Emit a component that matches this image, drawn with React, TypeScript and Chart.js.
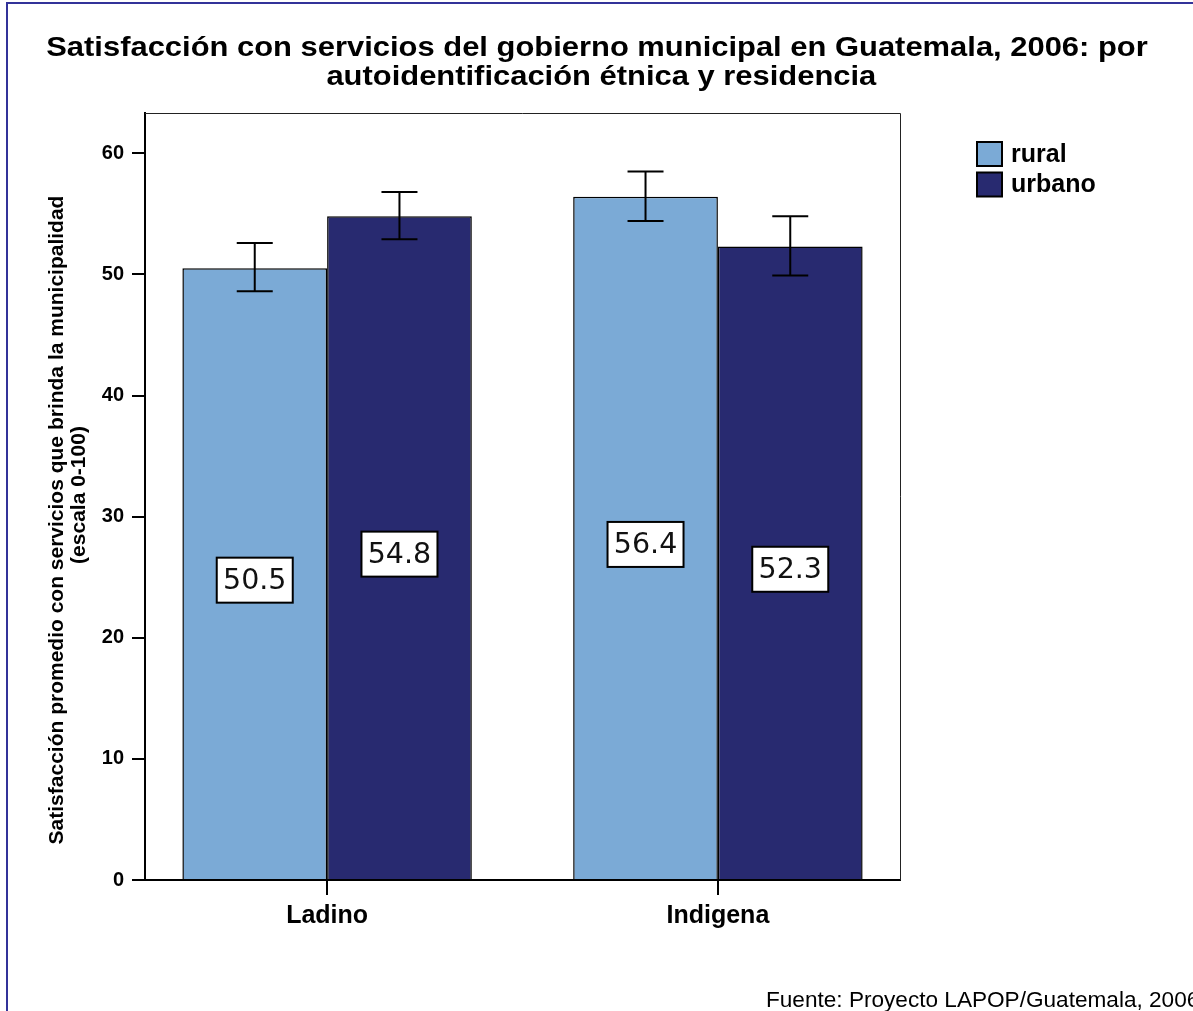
import React, { useEffect, useRef } from 'react';
import { Chart, registerables } from 'chart.js';

Chart.register(...registerables);

const TITLE_LINES = [
  'Satisfacción con servicios del gobierno municipal en Guatemala, 2006: por',
  'autoidentificación étnica y residencia',
];
const Y_TITLE_LINES = [
  'Satisfacción promedio con servicios que brinda la municipalidad',
  '(escala 0-100)',
];
const SOURCE_TEXT = 'Fuente: Proyecto LAPOP/Guatemala, 2006';
const CATEGORIES = ['Ladino', 'Indigena'];
const SERIES_LABELS = ['rural', 'urbano'];
const RURAL = [50.5, 56.4];
const URBANO = [54.8, 52.3];
const RURAL_LOW = [48.6, 54.4];
const RURAL_HIGH = [52.6, 58.5];
const URBANO_LOW = [52.9, 49.9];
const URBANO_HIGH = [56.8, 54.8];
const Y_TICKS = [0, 10, 20, 30, 40, 50, 60];
const Y_MAX = 63.3;
const X_MIN = -0.466;
const X_MAX = 1.466;

const RURAL_COLOR = '#7BAAD6';
const URBANO_COLOR = '#282A70';
const FRAME_COLOR = '#333399';
const SANS = '"Liberation Sans", Arial, sans-serif';

const decorations = {
  id: 'decorations',
  afterDatasetsDraw(chart: any) {
    const ctx = chart.ctx;
    const yScale = chart.scales.y;
    ctx.save();
    // error bars
    chart.data.datasets.forEach((ds: any, di: number) => {
      const meta = chart.getDatasetMeta(di);
      meta.data.forEach((bar: any, i: number) => {
        const yLo = yScale.getPixelForValue(ds.errLow[i]);
        const yHi = yScale.getPixelForValue(ds.errHigh[i]);
        ctx.strokeStyle = '#000';
        ctx.lineWidth = 2;
        ctx.beginPath();
        ctx.moveTo(bar.x, yLo);
        ctx.lineTo(bar.x, yHi);
        ctx.moveTo(bar.x - 18, yLo);
        ctx.lineTo(bar.x + 18, yLo);
        ctx.moveTo(bar.x - 18, yHi);
        ctx.lineTo(bar.x + 18, yHi);
        ctx.stroke();
      });
    });
    // value labels
    chart.data.datasets.forEach((ds: any, di: number) => {
      const meta = chart.getDatasetMeta(di);
      meta.data.forEach((bar: any, i: number) => {
        const v = ds.data[i].y;
        const cy = yScale.getPixelForValue(v / 2) + 6;
        const w = 76, h = 45;
        ctx.fillStyle = '#fff';
        ctx.fillRect(bar.x - w / 2, cy - h / 2, w, h);
        ctx.strokeStyle = '#000';
        ctx.lineWidth = 2;
        ctx.strokeRect(bar.x - w / 2, cy - h / 2, w, h);
        ctx.fillStyle = '#111';
        ctx.font = '28.5px "DejaVu Sans", Verdana, sans-serif';
        ctx.textAlign = 'center';
        ctx.textBaseline = 'middle';
        ctx.fillText(v.toFixed(1), bar.x, cy + 1);
      });
    });
    ctx.restore();
  },
  afterDraw(chart: any) {
    const ctx = chart.ctx;
    const area = chart.chartArea;
    ctx.save();
    // outer frame
    ctx.fillStyle = FRAME_COLOR;
    ctx.fillRect(6, 2, 1300, 2);
    ctx.fillRect(6, 2, 2, 1100);
    // plot frame top/right
    ctx.strokeStyle = '#222';
    ctx.lineWidth = 1;
    ctx.beginPath();
    ctx.moveTo(area.left, Math.round(area.top) + 0.5);
    ctx.lineTo(area.right + 0.5, Math.round(area.top) + 0.5);
    ctx.lineTo(area.right + 0.5, area.bottom);
    ctx.stroke();
    // title (slightly widened, as in the original)
    ctx.fillStyle = '#000';
    ctx.font = `bold 28.5px ${SANS}`;
    ctx.textAlign = 'center';
    ctx.textBaseline = 'alphabetic';
    ctx.save();
    ctx.translate(597, 0);
    ctx.scale(1.085, 1);
    ctx.fillText(TITLE_LINES[0], 0, 56);
    ctx.fillText(TITLE_LINES[1], 4, 85);
    ctx.restore();
    // y-axis title
    ctx.font = `bold 21px ${SANS}`;
    ctx.save();
    ctx.translate(63, 520);
    ctx.rotate(-Math.PI / 2);
    ctx.fillText(Y_TITLE_LINES[0], 0, 0);
    ctx.restore();
    ctx.save();
    ctx.translate(85, 495);
    ctx.rotate(-Math.PI / 2);
    ctx.fillText(Y_TITLE_LINES[1], 0, 0);
    ctx.restore();
    // legend
    chart.data.datasets.forEach((ds: any, i: number) => {
      const bx = 977, by = 142 + i * 30.5;
      ctx.fillStyle = ds.backgroundColor;
      ctx.fillRect(bx, by, 25, 24);
      ctx.strokeStyle = '#000';
      ctx.lineWidth = 2;
      ctx.strokeRect(bx, by, 25, 24);
      ctx.fillStyle = '#000';
      ctx.font = `bold 25px ${SANS}`;
      ctx.textAlign = 'left';
      ctx.textBaseline = 'middle';
      ctx.fillText(ds.label, 1011, by + 13);
    });
    // source
    ctx.font = `22.6px ${SANS}`;
    ctx.textAlign = 'left';
    ctx.textBaseline = 'alphabetic';
    ctx.fillText(SOURCE_TEXT, 766, 1007);
    ctx.restore();
  },
};

export default function App() {
  const ref = useRef<HTMLCanvasElement>(null);
  useEffect(() => {
    const chart = new Chart(ref.current as HTMLCanvasElement, {
      type: 'bar',
      data: {
        datasets: [
          {
            label: SERIES_LABELS[0],
            data: CATEGORIES.map((_, i) => ({ x: i, y: RURAL[i] })),
            backgroundColor: RURAL_COLOR,
            borderColor: '#000',
            borderWidth: 1.5,
            errLow: RURAL_LOW,
            errHigh: RURAL_HIGH,
          } as any,
          {
            label: SERIES_LABELS[1],
            data: CATEGORIES.map((_, i) => ({ x: i, y: URBANO[i] })),
            backgroundColor: URBANO_COLOR,
            borderColor: '#000',
            borderWidth: 1.5,
            errLow: URBANO_LOW,
            errHigh: URBANO_HIGH,
          } as any,
        ],
      },
      options: {
        responsive: false,
        animation: false,
        events: [],
        categoryPercentage: 0.7407,
        barPercentage: 1,
        layout: { padding: { left: 0, top: 113.3, right: 293, bottom: 0 } },
        plugins: {
          legend: { display: false },
          title: { display: false },
          tooltip: { enabled: false },
        },
        scales: {
          x: {
            type: 'linear',
            min: X_MIN,
            max: X_MAX,
            offset: false,
            afterBuildTicks: (scale: any) => {
              scale.ticks = CATEGORIES.map((_, i) => ({ value: i }));
            },
            afterFit: (scale: any) => {
              scale.height = 131;
            },
            ticks: {
              callback: (v: any) => CATEGORIES[v] ?? '',
              color: '#000',
              font: { family: SANS, size: 25, weight: 'bold' },
              padding: 6,
              maxRotation: 0,
              autoSkip: false,
            },
            grid: {
              offset: false,
              drawOnChartArea: false,
              drawTicks: true,
              tickLength: 15,
              color: '#000',
              lineWidth: 2,
            },
            border: { display: true, color: '#000', width: 2 },
          },
          y: {
            type: 'linear',
            min: 0,
            max: Y_MAX,
            afterBuildTicks: (scale: any) => {
              scale.ticks = Y_TICKS.map((v) => ({ value: v }));
            },
            afterFit: (scale: any) => {
              scale.width = 145;
            },
            ticks: {
              color: '#000',
              font: { family: SANS, size: 20, weight: 'bold' },
              padding: 8,
            },
            grid: {
              drawOnChartArea: false,
              drawTicks: true,
              tickLength: 13,
              color: '#000',
              lineWidth: 2,
            },
            border: { display: true, color: '#000', width: 2 },
          },
        },
      } as any,
      plugins: [decorations],
    });
    return () => chart.destroy();
  }, []);
  return (
    <div style={{ position: 'absolute', left: 0, top: 0, width: 1193, height: 1011, background: '#fff', overflow: 'hidden' }}>
      <canvas ref={ref} width={1193} height={1011} style={{ display: 'block' }} />
    </div>
  );
}
